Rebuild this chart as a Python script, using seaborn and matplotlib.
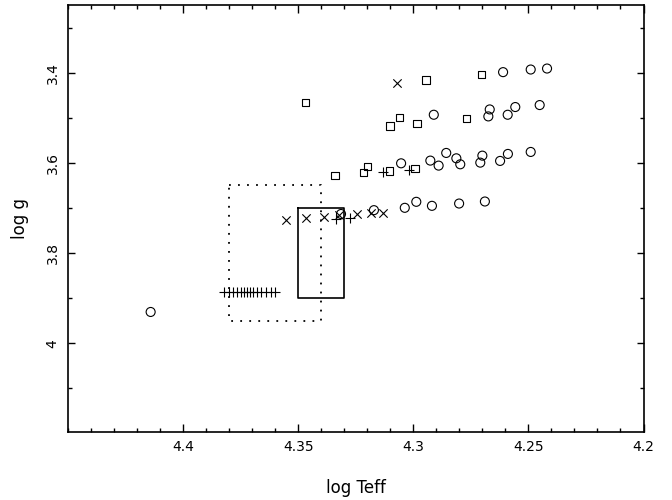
import numpy as np
import pandas as pd
import matplotlib
matplotlib.use("Agg")
import matplotlib.pyplot as plt
import seaborn as sns
from matplotlib.ticker import MultipleLocator, FixedLocator, FormatStrFormatter

# ---- data ----
circle_teff = [4.4141, 4.3314, 4.3171, 4.3037, 4.2987, 4.2919, 4.2801, 4.2689,
               4.3053, 4.2926, 4.2890, 4.2857, 4.2813, 4.2796, 4.2700, 4.2709,
               4.2623, 4.2589, 4.2490,
               4.2911, 4.2668, 4.2674, 4.2590, 4.2557, 4.2451,
               4.2610, 4.2490, 4.2419]
circle_logg = [3.9308, 3.7135, 3.7050, 3.6998, 3.6865, 3.6954, 3.6903, 3.6858,
               3.6011, 3.5951, 3.6062, 3.5781, 3.5900, 3.6033, 3.5841, 3.5996,
               3.5958, 3.5803, 3.5759,
               3.4934, 3.4816, 3.4971, 3.4934, 3.4763, 3.4719,
               3.3989, 3.3931, 3.3909]

square_teff = [4.3467, 4.3340, 4.3217, 4.3198, 4.3104, 4.2993,
               4.3101, 4.3061, 4.2984, 4.2770, 4.2945, 4.2705]
square_logg = [3.4660, 3.6280, 3.6220, 3.6080, 3.6180, 3.6130,
               3.5180, 3.5000, 3.5126, 3.5016, 3.4160, 3.4040]

cross_teff = [4.3071, 4.3554, 4.3467, 4.3387, 4.3323, 4.3245, 4.3185, 4.3130]
cross_logg = [3.4220, 3.7270, 3.7220, 3.7197, 3.7150, 3.7146, 3.7108, 3.7108]

plus_teff = [4.3336, 4.3277, 4.3133, 4.3017,
             4.3822, 4.3801, 4.3783, 4.3766, 4.3748, 4.3735, 4.3722,
             4.3709, 4.3696, 4.3679, 4.3662, 4.3640, 4.3618, 4.3601]
plus_logg = [3.7257, 3.7223, 3.6195, 3.6150,
             3.8860, 3.8856, 3.8856, 3.8856, 3.8856, 3.8856, 3.8856,
             3.8856, 3.8856, 3.8856, 3.8856, 3.8856, 3.8856, 3.8856]

# boxes (teff_left, teff_right, logg_top, logg_bottom)
solid_box = [4.35, 4.33, 3.70, 3.90]
dotted_box = [4.38, 4.34, 3.65, 3.95]

x_label = "log Teff"
y_label = "log g"

# ---- plotting ----
sns.set_theme(style="ticks")
plt.rcParams['font.family'] = ['DejaVu Sans']

fig = plt.figure(figsize=(6.72, 5.0), dpi=100)
ax = fig.add_axes([68/672, 1-432/500, 575.5/672, 427/500])

black = "black"
sns.scatterplot(x=circle_teff, y=circle_logg, marker='o', s=42,
                facecolors='none', edgecolor=black, linewidth=0.8, ax=ax)
sns.scatterplot(x=square_teff, y=square_logg, marker='s', s=28,
                facecolors='none', edgecolor=black, linewidth=0.8, ax=ax)
sns.scatterplot(x=cross_teff, y=cross_logg, marker='x', s=36,
                color=black, linewidth=0.8, ax=ax)
sns.scatterplot(x=plus_teff, y=plus_logg, marker='+', s=52,
                color=black, linewidth=0.8, ax=ax)

def box(b, **kw):
    x0, x1, y0, y1 = b
    ax.plot([x0, x1, x1, x0, x0], [y0, y0, y1, y1, y0], color=black, **kw)

box(solid_box, lw=1.2)
box(dotted_box, lw=1.3, linestyle=(0, (1, 4.0)))

ax.set_xlim(4.45, 4.2)
ax.set_ylim(4.197, 3.25)

ax.xaxis.set_major_locator(FixedLocator([4.4, 4.35, 4.3, 4.25, 4.2]))
ax.xaxis.set_minor_locator(MultipleLocator(0.01))
ax.xaxis.set_major_formatter(FormatStrFormatter('%g'))
ax.yaxis.set_major_locator(FixedLocator([3.4, 3.6, 3.8, 4.0]))
ax.yaxis.set_minor_locator(FixedLocator([3.3, 3.5, 3.7, 3.9, 4.1]))
ax.yaxis.set_major_formatter(FormatStrFormatter('%g'))

ax.tick_params(which='both', direction='in', top=True, right=True,
               width=1.0, color=black, labelsize=10, labelcolor=black)
ax.tick_params(axis='x', which='major', length=6, pad=6)
ax.tick_params(axis='x', which='minor', length=3)
ax.tick_params(axis='y', which='major', length=5, pad=6)
ax.tick_params(axis='y', which='minor', length=3)
for lab in ax.get_yticklabels():
    lab.set_rotation(90)
    lab.set_va('center')

for sp in ax.spines.values():
    sp.set_linewidth(1.2)
    sp.set_color(black)

ax.set_xlabel(x_label, fontsize=12, color=black)
ax.set_ylabel(y_label, fontsize=12, color=black)
ax.xaxis.set_label_coords(0.5, -0.11)
ax.yaxis.set_label_coords(-0.068, 0.5)

fig.savefig("out.png", dpi=100, facecolor="white")
